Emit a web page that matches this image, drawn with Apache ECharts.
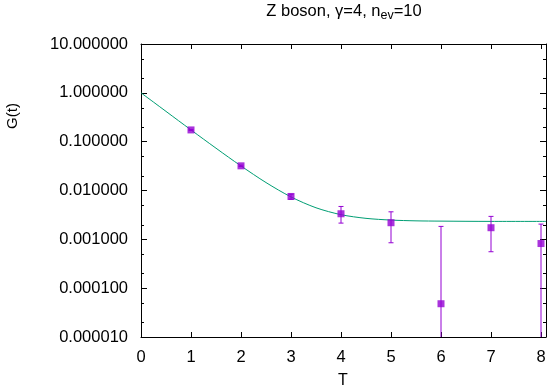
<!DOCTYPE html>
<html>
<head>
<meta charset="utf-8">
<script src="https://cdn.jsdelivr.net/npm/echarts@6/dist/echarts.min.js"></script>
<style>html,body{margin:0;padding:0;background:#fff}#c{width:549px;height:387px}</style>
</head>
<body>
<div id="c"></div>
<script>
// Data points: T, G(t)
var pointT = [1, 2, 3, 4, 5, 6, 7, 8];
var pointG = [0.174, 0.032, 0.00755, 0.00334, 0.00219, 0.000048, 0.00173, 0.00082];
var errLow = [0.170, 0.031, 0.0066, 0.00215, 0.00085, 0.000001, 0.000557, 0.000001];
var errHigh = [0.178, 0.033, 0.0084, 0.00471, 0.00366, 0.00184, 0.00295, 0.00205];
// Fit curve
var fitT = [0, 0.25, 0.5, 0.75, 1, 1.25, 1.5, 1.75, 2, 2.5, 3, 3.5, 4, 4.5, 5, 5.5, 6, 7, 8.1];
var fitG = [1.0, 0.646, 0.417, 0.269, 0.174, 0.1128, 0.0735, 0.0481, 0.0318, 0.01454, 0.00739, 0.00443, 0.0032, 0.00269, 0.00248, 0.00239, 0.00236, 0.00233, 0.00233];
var xTicks = [0, 1, 2, 3, 4, 5, 6, 7, 8];
var yTickLabels = ['0.000010', '0.000100', '0.001000', '0.010000', '0.100000', '1.000000', '10.000000'];
var yMinorTicks = [2e-5, 5e-5, 2e-4, 5e-4, 2e-3, 5e-3, 2e-2, 5e-2, 0.2, 0.5, 2, 5];

var FONT = '"Liberation Sans", Arial, Helvetica, sans-serif';
var purple = '#9400D3';
var green = '#009E73';

var chart = echarts.init(document.getElementById('c'), null, {renderer: 'canvas'});

function fmtY(v) {
  var e = Math.round(Math.log10(v));
  var idx = e + 5;
  return yTickLabels[idx] !== undefined ? yTickLabels[idx] : '';
}

var lineSt = {color: '#000', width: 1};
var baseX = {
  type: 'value', min: 0, max: 8.1, interval: 1,
  axisLine: {show: true, onZero: false, lineStyle: lineSt},
  axisTick: {show: true, inside: true, length: 5, lineStyle: lineSt},
  splitLine: {show: false}
};
var baseY = {
  type: 'log', logBase: 10, min: 1e-5, max: 10,
  axisLine: {show: true, onZero: false, lineStyle: lineSt},
  axisTick: {show: true, inside: true, length: 6, lineStyle: lineSt},
  splitLine: {show: false}
};

var option = {
  animation: false,
  backgroundColor: '#fff',
  grid: {left: 141, right: 3, top: 44, bottom: 50, show: false},
  xAxis: [
    Object.assign({}, baseX, {position: 'bottom',
      axisLabel: {show: true, margin: 12, fontSize: 16.5, color: '#000', fontFamily: FONT,
        formatter: function (v) { return xTicks.indexOf(v) >= 0 ? String(v) : ''; }}}),
    Object.assign({}, baseX, {position: 'top', axisLabel: {show: false}})
  ],
  yAxis: [
    Object.assign({}, baseY, {position: 'left',
      axisLabel: {show: true, margin: 13, fontSize: 16.5, color: '#000', fontFamily: FONT, formatter: fmtY}}),
    Object.assign({}, baseY, {position: 'right', axisLabel: {show: false}})
  ],
  graphic: [
    {type: 'text', x: 344, y: 21.7, style: {
      text: 'Z boson, γ=4, n{sub|ev}=10', textAlign: 'center', textVerticalAlign: 'bottom',
      fontSize: 16.5, fontFamily: FONT, fill: '#000',
      rich: {sub: {fontSize: 12.5, fontFamily: FONT, fill: '#000', padding: [7, 0, 0, 0]}}
    }},
    {type: 'text', x: 13, y: 116, rotation: Math.PI / 2, style: {
      text: 'G(t)', textAlign: 'center', textVerticalAlign: 'middle', fontSize: 15, fontFamily: FONT, fill: '#000'}},
    {type: 'text', x: 343, y: 381, style: {
      text: 'T', textAlign: 'center', textVerticalAlign: 'middle', fontSize: 16, fontFamily: FONT, fill: '#000'}}
  ],
  series: [
    {
      // minor ticks at 2 and 5 of each decade, left and right borders
      type: 'custom', xAxisIndex: 0, yAxisIndex: 0, clip: false, z: 1, silent: true,
      data: yMinorTicks.map(function (v) { return [0, v]; }),
      renderItem: function (params, api) {
        var l = api.coord([0, api.value(1)]);
        var r = api.coord([8.1, api.value(1)]);
        var y = Math.round(l[1]) + 0.5;
        var st = {stroke: '#000', lineWidth: 1};
        return {type: 'group', children: [
          {type: 'line', shape: {x1: l[0], y1: y, x2: l[0] + 3, y2: y}, style: st},
          {type: 'line', shape: {x1: r[0] - 3, y1: y, x2: r[0], y2: y}, style: st}
        ]};
      }
    },
    {
      type: 'line', xAxisIndex: 0, yAxisIndex: 0, smooth: 0.3, showSymbol: false, clip: true,
      lineStyle: {color: green, width: 1}, z: 2,
      data: fitT.map(function (t, i) { return [t, fitG[i]]; })
    },
    {
      type: 'custom', xAxisIndex: 0, yAxisIndex: 0, clip: true, z: 3,
      data: pointT.map(function (t, i) { return [t, errLow[i], errHigh[i]]; }),
      renderItem: function (params, api) {
        var lo = api.coord([api.value(0), api.value(1)]);
        var hi = api.coord([api.value(0), api.value(2)]);
        var x = lo[0], w = 2.5;
        var st = {stroke: purple, lineWidth: 1};
        return {type: 'group', children: [
          {type: 'line', shape: {x1: x, y1: lo[1], x2: x, y2: hi[1]}, style: st},
          {type: 'line', shape: {x1: x - w, y1: lo[1], x2: x + w, y2: lo[1]}, style: st},
          {type: 'line', shape: {x1: x - w, y1: hi[1], x2: x + w, y2: hi[1]}, style: st}
        ]};
      }
    },
    {
      type: 'scatter', xAxisIndex: 0, yAxisIndex: 0, symbol: 'rect', symbolSize: 7, z: 4,
      itemStyle: {color: purple},
      data: pointT.map(function (t, i) { return [t, pointG[i]]; })
    }
  ]
};
chart.setOption(option);
</script>
</body>
</html>
